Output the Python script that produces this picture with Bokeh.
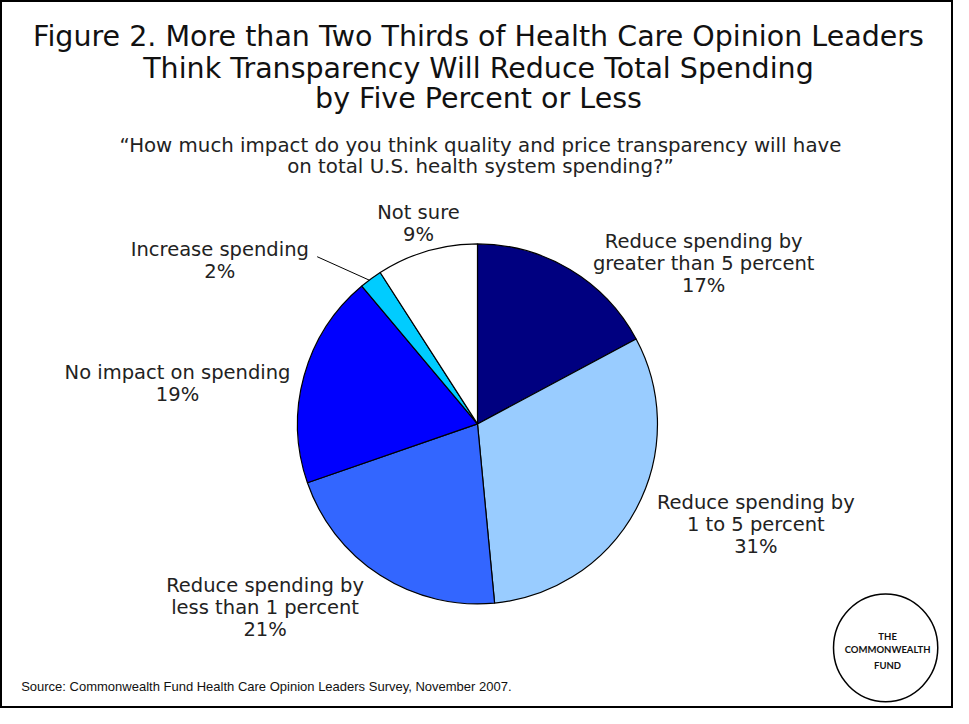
import numpy as np
from bokeh.plotting import figure
from bokeh.models import Range1d, ColumnDataSource
from bokeh.core.properties import value
from bokeh.embed import file_html
from bokeh.resources import INLINE

# ---- data ----
categories = ["Reduce spending by greater than 5 percent",
              "Reduce spending by 1 to 5 percent",
              "Reduce spending by less than 1 percent",
              "No impact on spending",
              "Increase spending",
              "Not sure"]
values = [17, 31, 21, 19, 2, 9]
colors = ["#000080", "#99CCFF", "#3366FF", "#0000FF", "#00CCFF", "#FFFFFF"]
label_lines = [["Reduce spending by", "greater than 5 percent", "17%"],
               ["Reduce spending by", "1 to 5 percent", "31%"],
               ["Reduce spending by", "less than 1 percent", "21%"],
               ["No impact on spending", "19%"],
               ["Increase spending", "2%"],
               ["Not sure", "9%"]]
title_lines = ["Figure 2. More than Two Thirds of Health Care Opinion Leaders",
               "Think Transparency Will Reduce Total Spending",
               "by Five Percent or Less"]
subtitle_lines = ["\u201cHow much impact do you think quality and price transparency will have",
                  "on total U.S. health system spending?\u201d"]
source_text = "Source: Commonwealth Fund Health Care Opinion Leaders Survey, November 2007."
logo_lines = ["THE", "COMMONWEALTH", "FUND"]

# ---- layout (reference pixel coordinates, 969 x 724 space) ----
W, H = 969, 724
W_FIG, H_FIG = 953, 708
cx, cy, R = 485, 433, 183
label_pos = [(715, 246), (768, 513), (269, 598), (180, 380), (223, 255), (425, 217)]
line_gap = 22.5

p = figure(width=W_FIG, height=H_FIG, output_backend="svg", toolbar_location=None,
           x_range=Range1d(0, W), y_range=Range1d(0, H), min_border=0)
p.axis.visible = False
p.grid.visible = False
p.outline_line_color = "black"
p.outline_line_width = 3
p.background_fill_color = "white"
p.border_fill_color = "white"

def Y(y):
    return H - y

# pie
vals = np.array(values, dtype=float)
frac = vals / vals.sum()
cum = np.concatenate([[0], np.cumsum(frac)])
start = np.pi / 2 - cum[:-1] * 2 * np.pi
end = np.pi / 2 - cum[1:] * 2 * np.pi
src = ColumnDataSource(dict(start=start, end=end, color=colors, cat=categories))
p.wedge(x=cx, y=Y(cy), radius=R, start_angle="start", end_angle="end",
        direction="clock", fill_color="color", line_color="black", line_width=1.2,
        source=src)

# leader line for "Increase spending"
p.line(x=[322, 375], y=[Y(262), Y(286)], line_color="black", line_width=1)

lab_font = value("DejaVu Sans")
# slice labels
for lines, (lx, ly) in zip(label_lines, label_pos):
    for i, t in enumerate(lines):
        p.text(x=[lx], y=[Y(ly + i * line_gap)], text=[t], text_align="center",
               text_baseline="middle", text_font=lab_font, text_font_size="19.5px",
               text_color="#222222")

# title
for t, ty in zip(title_lines, [37, 70, 100]):
    p.text(x=[486], y=[Y(ty)], text=[t], text_align="center", text_baseline="middle",
           text_font=lab_font, text_font_size="28.5px", text_color="#111111")

for t, ty in zip(subtitle_lines, [148, 170]):
    p.text(x=[488], y=[Y(ty)], text=[t], text_align="center", text_baseline="middle",
           text_font=lab_font, text_font_size="19.8px", text_color="#222222")

# source
p.text(x=[21], y=[Y(702)], text=[source_text], text_align="left", text_baseline="middle",
       text_font=value("Liberation Sans"), text_font_size="13px", text_color="#111111")

# logo
p.ellipse(x=[900], y=[Y(662)], width=106, height=110, fill_color="white",
          line_color="black", line_width=1.5)
for t, ty in zip(logo_lines, [650, 664, 680]):
    p.text(x=[902], y=[Y(ty)], text=[t], text_align="center", text_baseline="middle",
           text_font=value("Lato"), text_font_style="bold", text_font_size="9.5px",
           text_color="#111111")

open("out.html", "w").write(file_html(p, INLINE))
